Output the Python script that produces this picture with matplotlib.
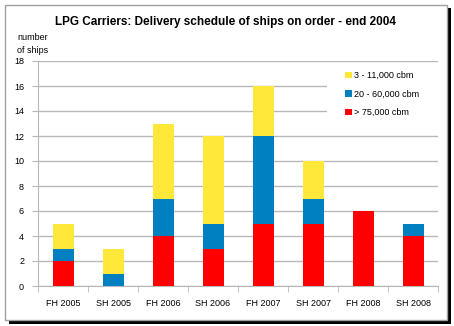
import matplotlib
matplotlib.use('Agg')
import matplotlib.pyplot as plt
import numpy as np
from matplotlib.patches import Rectangle

plt.rcParams['font.family'] = ['Liberation Sans', 'DejaVu Sans']

# data
periods = ['FH 2005', 'SH 2005', 'FH 2006', 'SH 2006',
           'FH 2007', 'SH 2007', 'FH 2008', 'SH 2008']
large = [2, 0, 4, 3, 5, 5, 6, 4]      # > 75,000 cbm
medium = [1, 1, 3, 2, 7, 2, 0, 1]     # 20 - 60,000 cbm
small = [2, 2, 6, 7, 4, 3, 0, 0]      # 3 - 11,000 cbm
yticks = [0, 2, 4, 6, 8, 10, 12, 14, 16, 18]

c_red, c_blue, c_yellow = '#FF0000', '#0080C0', '#FFE83A'
grey = '#B8B8B8'

W, H = 454, 326
fig = plt.figure(figsize=(W / 100, H / 100), dpi=100)

# frame with dark shadow
fig.patches.append(Rectangle((9 / W, 2 / H), 442 / W, 316 / H, transform=fig.transFigure,
                             facecolor='black', edgecolor='none', zorder=0))
fig.patches.append(Rectangle((5 / W, 6 / H), 442 / W, 315 / H, transform=fig.transFigure,
                             facecolor='white', edgecolor='#A0A0A0', lw=1, zorder=1))

ax = fig.add_axes([38 / W, (H - 286) / H, 400 / W, 225 / H])
ax.set_facecolor('none')
ax.set_zorder(2)

x = np.arange(len(periods))
bw = 0.42
b1 = np.array(large)
b2 = b1 + np.array(medium)
ax.bar(x, large, bw, color=c_red, label='> 75,000 cbm', zorder=3)
ax.bar(x, medium, bw, bottom=b1, color=c_blue, label='20 - 60,000 cbm', zorder=3)
ax.bar(x, small, bw, bottom=b2, color=c_yellow, label='3 - 11,000 cbm', zorder=3)

ax.set_xlim(-0.5, len(periods) - 0.5)
ax.set_ylim(0, 18)
ax.set_yticks(yticks)
ax.yaxis.grid(True, color=grey, lw=1, zorder=0)
ax.set_axisbelow(True)
for s in ['top', 'right']:
    ax.spines[s].set_visible(False)
for s in ['left', 'bottom']:
    ax.spines[s].set_color(grey)
ax.set_xticks(x)
ax.set_xticklabels(periods)
ax.set_xticks(np.arange(len(periods) + 1) - 0.5, minor=True)
ax.tick_params(axis='x', which='major', length=0, labelsize=6.5, pad=9)
ax.tick_params(axis='x', which='minor', length=4, color=grey, direction='out')
ax.tick_params(axis='y', length=4, color=grey, labelsize=6.5, pad=6)

# white legend area covering the grid
fig.patches.append(Rectangle((327 / W, (H - 125) / H), 111 / W, 61 / H,
                             transform=fig.transFigure, facecolor='white',
                             edgecolor='none', zorder=2.5))
h, l = ax.get_legend_handles_labels()
leg = fig.legend(h[::-1], l[::-1], loc='upper left', bbox_to_anchor=(345 / W, 1 - 71 / H),
                 frameon=False, fontsize=6.5, handlelength=0.75, handleheight=0.75,
                 handletextpad=0.3, labelspacing=1.05, borderpad=0, borderaxespad=0)
leg.set_zorder(5)

fig.text(225 / W, 1 - 22 / H, 'LPG Carriers: Delivery schedule of ships on order - end 2004',
         ha='center', va='center', fontsize=8.5, fontweight='bold')
fig.text(33 / W, 1 - 44 / H, 'number\nof ships', ha='center', va='center',
         fontsize=6.5, linespacing=1.45)

fig.savefig('out.png', dpi=100)
